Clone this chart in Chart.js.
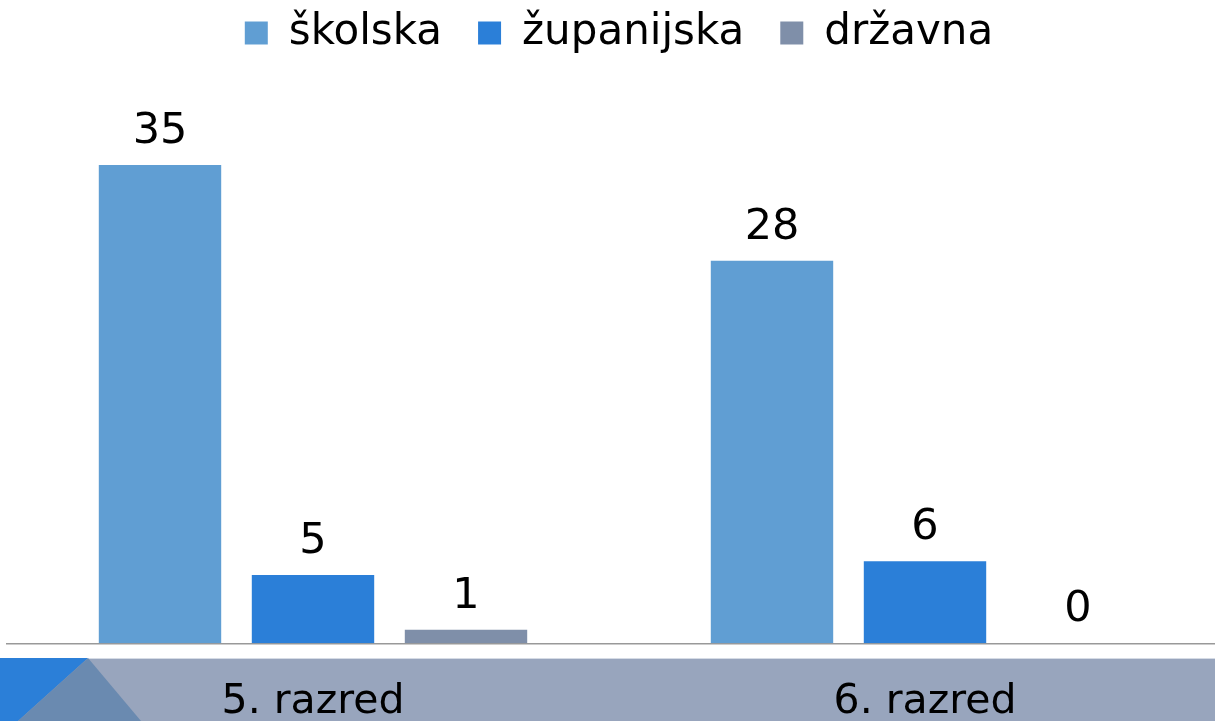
<!DOCTYPE html>
<html>
<head>
<meta charset="utf-8">
<script src="https://cdn.jsdelivr.net/npm/chart.js@4.4.1/dist/chart.umd.min.js"></script>
<style>
  html, body { margin: 0; padding: 0; background: #fff; overflow: hidden; }
  #wrap { position: relative; width: 1240px; height: 721px; }
</style>
</head>
<body>
<div id="wrap"><canvas id="natjecanja"></canvas></div>
<script>
const razredi = ["5. razred", "6. razred"];
const skolska = [35, 28];
const zupanijska = [5, 6];
const drzavna = [1, 0];

const fontFamily = "'DejaVu Sans', sans-serif";

// footer band of the slide, drawn behind the chart
const footerBand = {
    id: "footerBand",
    beforeDraw(chart) {
        const ctx = chart.ctx;
        const w = chart.width, h = chart.height;
        const top = 658;
        ctx.save();
        ctx.fillStyle = "#98a5bd";
        ctx.fillRect(0, top, w, h - top);
        ctx.fillStyle = "#d5dbe5";
        ctx.fillRect(0, top, w, 1);
        ctx.fillStyle = "#2b7fd8";
        ctx.beginPath();
        ctx.moveTo(0, top);
        ctx.lineTo(88, top);
        ctx.lineTo(18, h);
        ctx.lineTo(0, h);
        ctx.closePath();
        ctx.fill();
        ctx.fillStyle = "#6a8ab0";
        ctx.beginPath();
        ctx.moveTo(88, top);
        ctx.lineTo(141, h);
        ctx.lineTo(18, h);
        ctx.closePath();
        ctx.fill();
        ctx.restore();
    }
};

// value labels above every bar
const valueLabels = {
    id: "valueLabels",
    afterDatasetsDraw(chart) {
        const ctx = chart.ctx;
        ctx.save();
        ctx.font = "43px " + fontFamily;
        ctx.fillStyle = "#000";
        ctx.textAlign = "center";
        ctx.textBaseline = "alphabetic";
        chart.data.datasets.forEach((ds, i) => {
            chart.getDatasetMeta(i).data.forEach((bar, j) => {
                ctx.fillText(ds.data[j], bar.x, bar.y - 22);
            });
        });
        ctx.restore();
    }
};

new Chart(document.getElementById("natjecanja"), {
    type: "bar",
    data: {
        labels: razredi,
        datasets: [
            { label: "školska", data: skolska, backgroundColor: "#609ed3" },
            { label: "županijska", data: zupanijska, backgroundColor: "#2b7fd8" },
            { label: "državna", data: drzavna, backgroundColor: "#7f8fa9" }
        ]
    },
    options: {
        responsive: true,
        maintainAspectRatio: false,
        animation: false,
        categoryPercentage: 0.75,
        barPercentage: 0.8,
        layout: { padding: { left: 7, right: 9, top: -24, bottom: -32.5 } },
        plugins: {
            legend: {
                position: "top",
                labels: {
                    color: "#000",
                    font: { family: fontFamily, size: 42 },
                    boxWidth: 23,
                    boxHeight: 23,
                    padding: 36
                }
            },
            tooltip: { enabled: false }
        },
        scales: {
            x: {
                grid: { display: false },
                border: { display: true, color: "#999", width: 1.5 },
                ticks: {
                    color: "#000",
                    padding: 26.5,
                    font: { family: fontFamily, size: 41, lineHeight: 1.2 }
                }
            },
            y: {
                display: false,
                min: 0,
                max: 42.4
            }
        }
    },
    plugins: [footerBand, valueLabels]
});
</script>
</body>
</html>
